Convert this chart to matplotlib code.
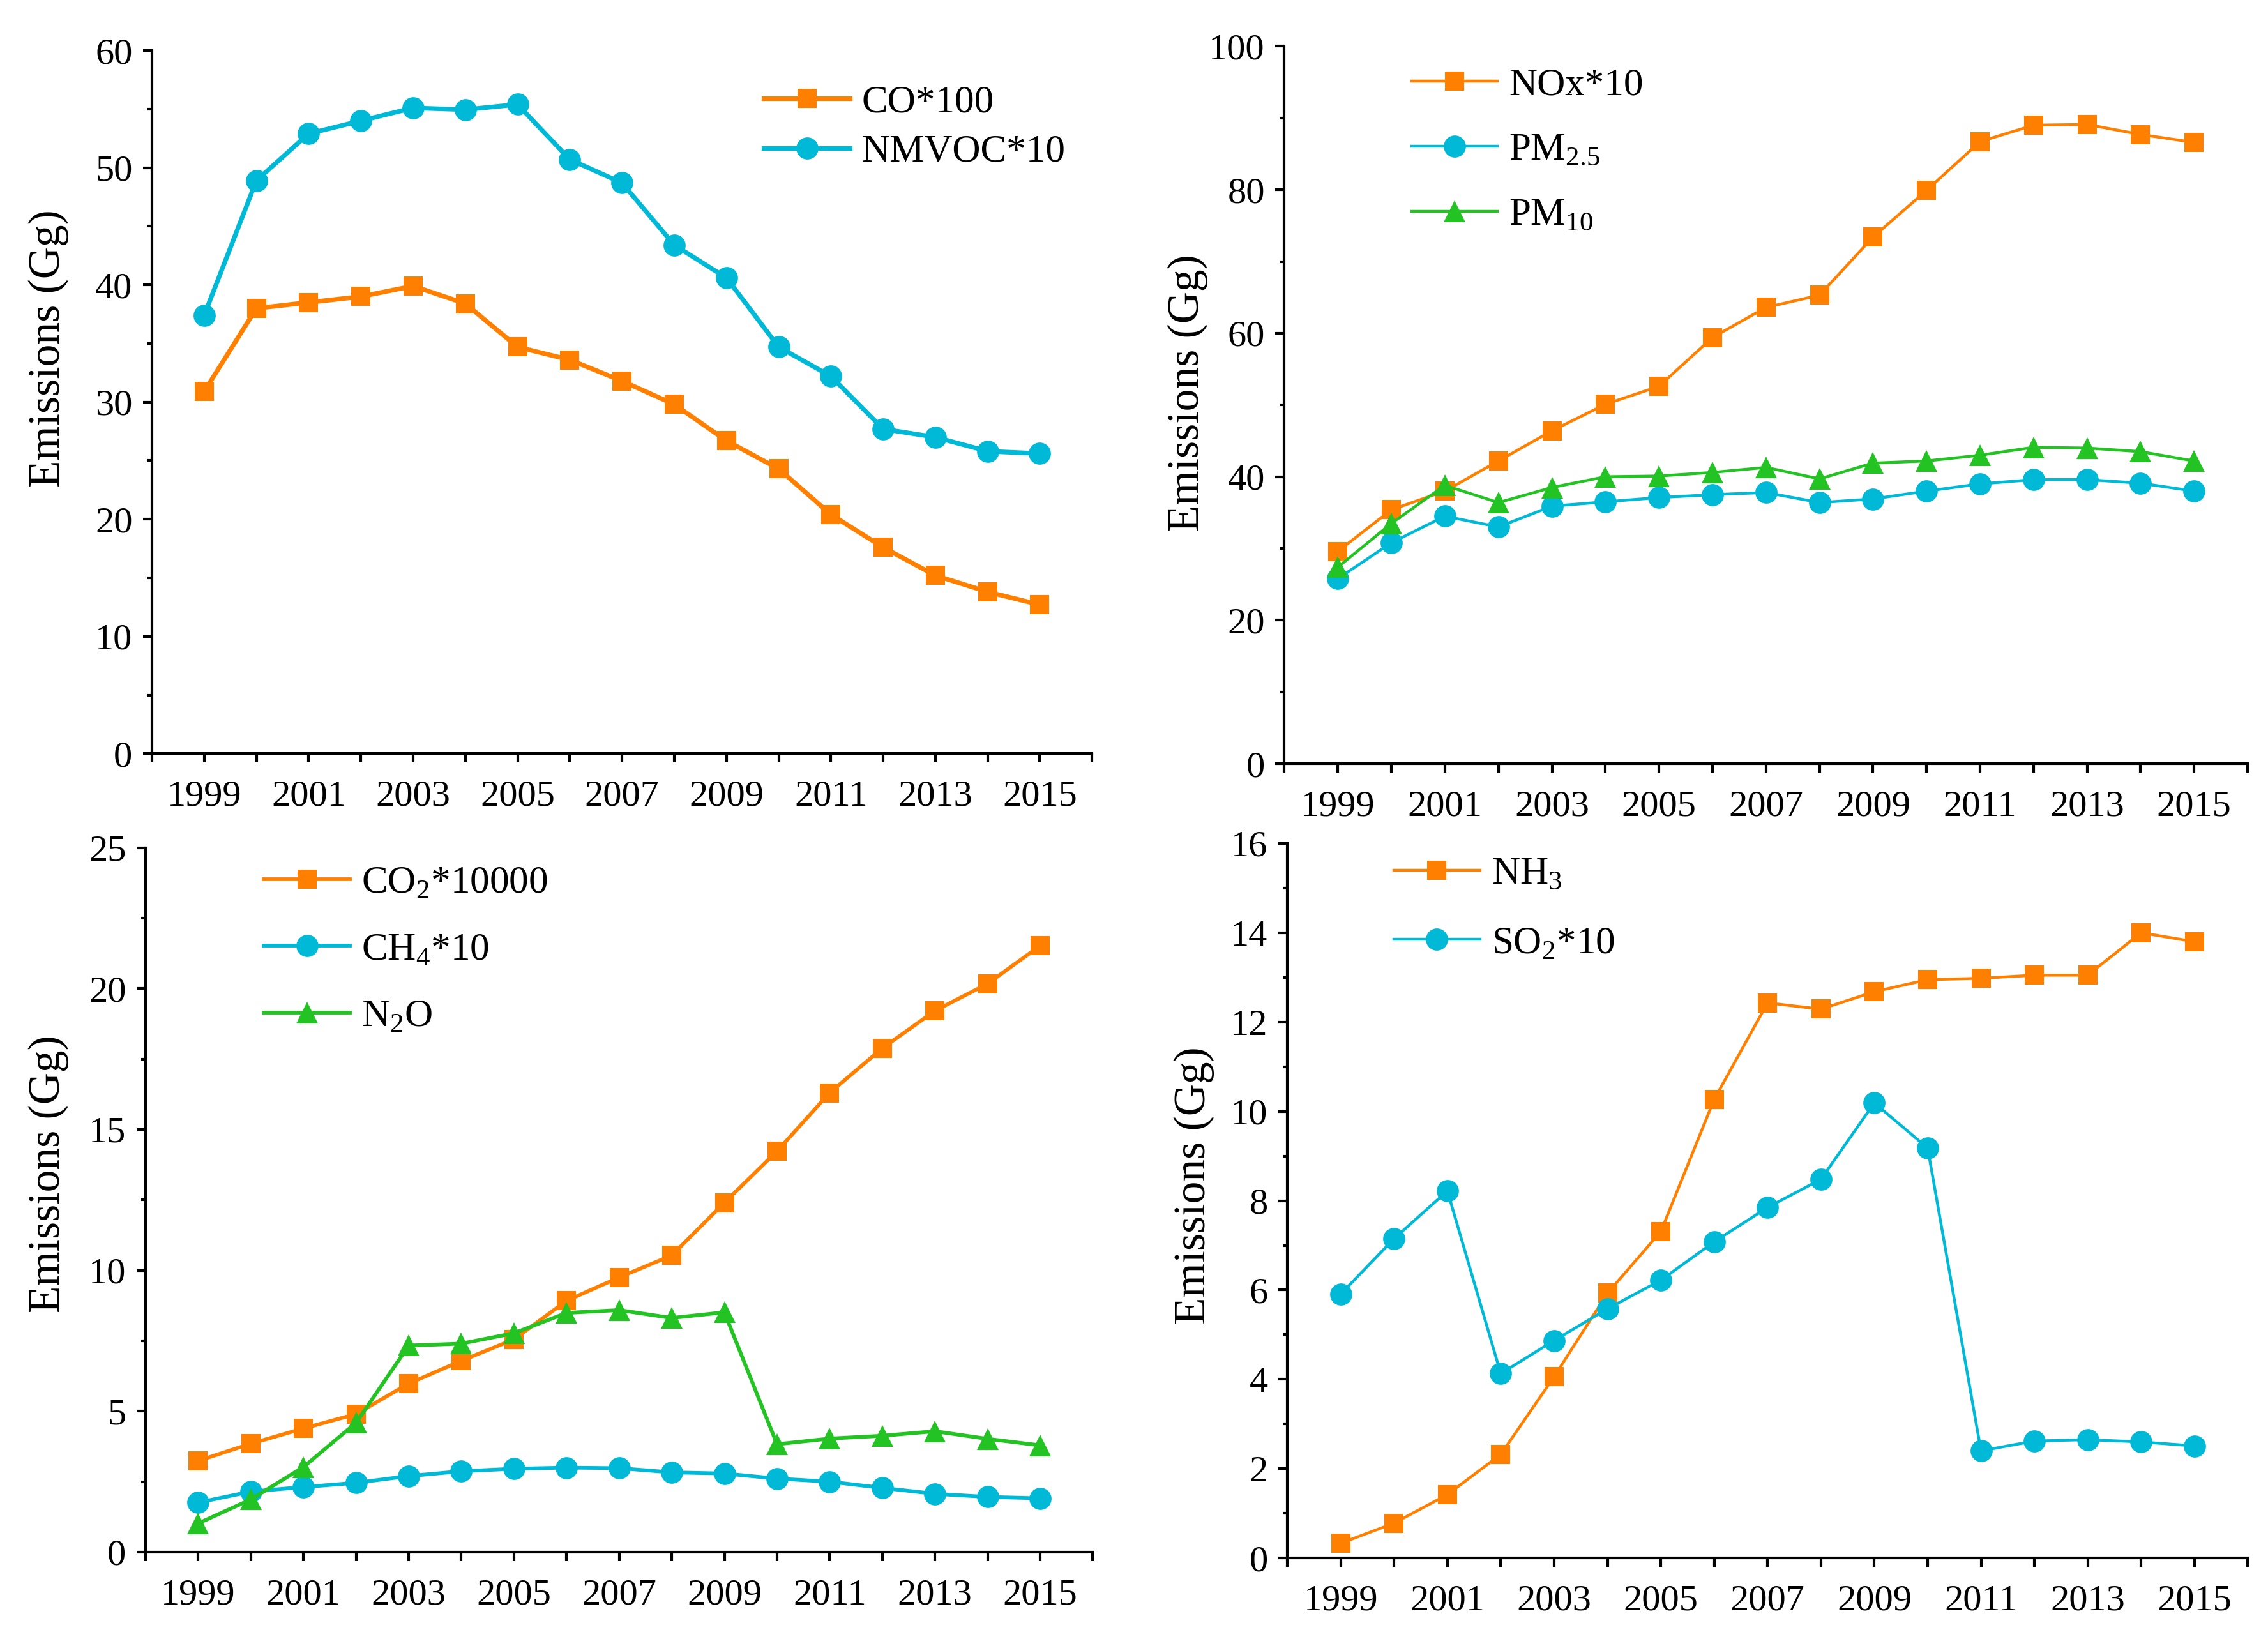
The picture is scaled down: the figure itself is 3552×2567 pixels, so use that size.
import matplotlib
matplotlib.use("Agg")
import matplotlib.pyplot as plt
from matplotlib.ticker import MultipleLocator, FixedLocator

plt.rcParams['font.family'] = ['Liberation Serif', 'DejaVu Serif']
plt.rcParams['mathtext.fontset'] = 'custom'
plt.rcParams['mathtext.rm'] = 'Liberation Serif'

years = list(range(1999, 2016))

# panel a
co_100 = [30.9, 38.0, 38.5, 39.0, 39.9, 38.4, 34.7, 33.6, 31.8, 29.8, 26.7,
          24.3, 20.4, 17.6, 15.2, 13.8, 12.7]
nmvoc_10 = [37.4, 48.9, 52.9, 54.0, 55.1, 54.95, 55.4, 50.7, 48.7, 43.4, 40.6,
            34.7, 32.2, 27.7, 27.0, 25.8, 25.6]

# panel b
nox_10 = [29.6, 35.4, 38.0, 42.2, 46.4, 50.1, 52.6, 59.4, 63.6, 65.3, 73.4,
          79.9, 86.7, 89.0, 89.1, 87.7, 86.6]
pm25 = [25.8, 30.8, 34.5, 33.0, 35.9, 36.5, 37.1, 37.5, 37.8, 36.4, 36.9,
        38.0, 39.0, 39.6, 39.6, 39.1, 38.0]
pm10 = [27.4, 33.5, 38.8, 36.4, 38.5, 40.0, 40.1, 40.6, 41.3, 39.7, 41.9,
        42.2, 43.0, 44.1, 44.0, 43.5, 42.2]

# panel c
co2_10000 = [3.24, 3.85, 4.39, 4.90, 5.98, 6.79, 7.55, 8.92, 9.75, 10.53, 12.40,
             14.23, 16.30, 17.88, 19.21, 20.17, 21.52]
ch4_10 = [1.76, 2.15, 2.31, 2.46, 2.70, 2.87, 2.96, 3.00, 2.98, 2.83, 2.79,
          2.61, 2.50, 2.28, 2.07, 1.96, 1.91]
n2o = [1.02, 1.87, 3.02, 4.59, 7.33, 7.40, 7.77, 8.49, 8.59, 8.31, 8.51,
       3.83, 4.03, 4.13, 4.29, 4.02, 3.79]

# panel d
nh3 = [0.33, 0.78, 1.42, 2.32, 4.06, 5.93, 7.31, 10.27, 12.43, 12.29, 12.68,
       12.95, 12.98, 13.05, 13.05, 14.0, 13.80]
so2_10 = [5.91, 7.15, 8.22, 4.13, 4.87, 5.58, 6.22, 7.08, 7.85, 8.48, 10.19,
          9.18, 2.40, 2.62, 2.65, 2.60, 2.51]

ORANGE = '#ff8000'
CYAN = '#00b9d6'
GREEN = '#22c322'

fig = plt.figure(figsize=(17.76, 12.835), dpi=200)

panels = [
    # rect, ylim, major step, line width, series, ylabel x/y, legend anchor, legend spacing
    ([0.0670, 0.5402, 0.4145, 0.4290], 60, 10, 2.6,
     [(co_100, 's', ORANGE, 'CO*100'),
      (nmvoc_10, 'o', CYAN, 'NMVOC*10')],
     (-0.088, 0.576), (0.651, 0.951), 0.35),
    ([0.5663, 0.5340, 0.4247, 0.4378], 100, 20, 1.6,
     [(nox_10, 's', ORANGE, 'NOx*10'),
      (pm25, 'o', CYAN, r'PM$_\mathregular{2.5}$'),
      (pm10, '^', GREEN, r'PM$_\mathregular{10}$')],
     (-0.079, 0.517), (0.132, 0.97), 0.75),
    ([0.0642, 0.0530, 0.4176, 0.4298], 25, 5, 2.1,
     [(co2_10000, 's', ORANGE, r'CO$_\mathregular{2}$*10000'),
      (ch4_10, 'o', CYAN, r'CH$_\mathregular{4}$*10'),
      (n2o, '^', GREEN, r'N$_\mathregular{2}$O')],
     (-0.081, 0.537), (0.125, 0.975), 0.8),
    ([0.5676, 0.0494, 0.4235, 0.4360], 16, 2, 1.6,
     [(nh3, 's', ORANGE, r'NH$_\mathregular{3}$'),
      (so2_10, 'o', CYAN, r'SO$_\mathregular{2}$*10')],
     (-0.076, 0.521), (0.111, 0.982), 0.87),
]

for rect, ytop, major, lw, series, lab_xy, leg_xy, spacing in panels:
    ax = fig.add_axes(rect)
    for vals, mk, col, lab in series:
        ms = 11 if mk == 's' else 12.5
        ax.plot(years, vals, marker=mk, color=col, lw=lw, ms=ms,
                markeredgewidth=0, label=lab)

    ax.set_xlim(1998, 2016)
    ax.set_ylim(0, ytop)
    ax.xaxis.set_major_locator(FixedLocator(list(range(1999, 2016, 2))))
    ax.xaxis.set_minor_locator(FixedLocator(list(range(1998, 2017, 2))))
    ax.yaxis.set_major_locator(MultipleLocator(major))
    ax.yaxis.set_minor_locator(MultipleLocator(major / 2))

    for s in ['top', 'right']:
        ax.spines[s].set_visible(False)
    for s in ['left', 'bottom']:
        ax.spines[s].set_linewidth(1.5)

    ax.tick_params(axis='both', which='both', direction='out', width=1.5)
    ax.tick_params(axis='x', which='both', length=5, pad=10, labelsize=21)
    ax.tick_params(axis='y', which='major', length=5, pad=6, labelsize=21)
    ax.tick_params(axis='y', which='minor', length=2.5)

    ax.set_ylabel('Emissions (Gg)', fontsize=25)
    ax.yaxis.set_label_coords(*lab_xy)

    ax.legend(loc='upper left', bbox_to_anchor=leg_xy, frameon=False,
              fontsize=22, handlelength=2.2, handletextpad=0.3,
              borderpad=0, borderaxespad=0, labelspacing=spacing)

fig.savefig('out.png', dpi=200)
